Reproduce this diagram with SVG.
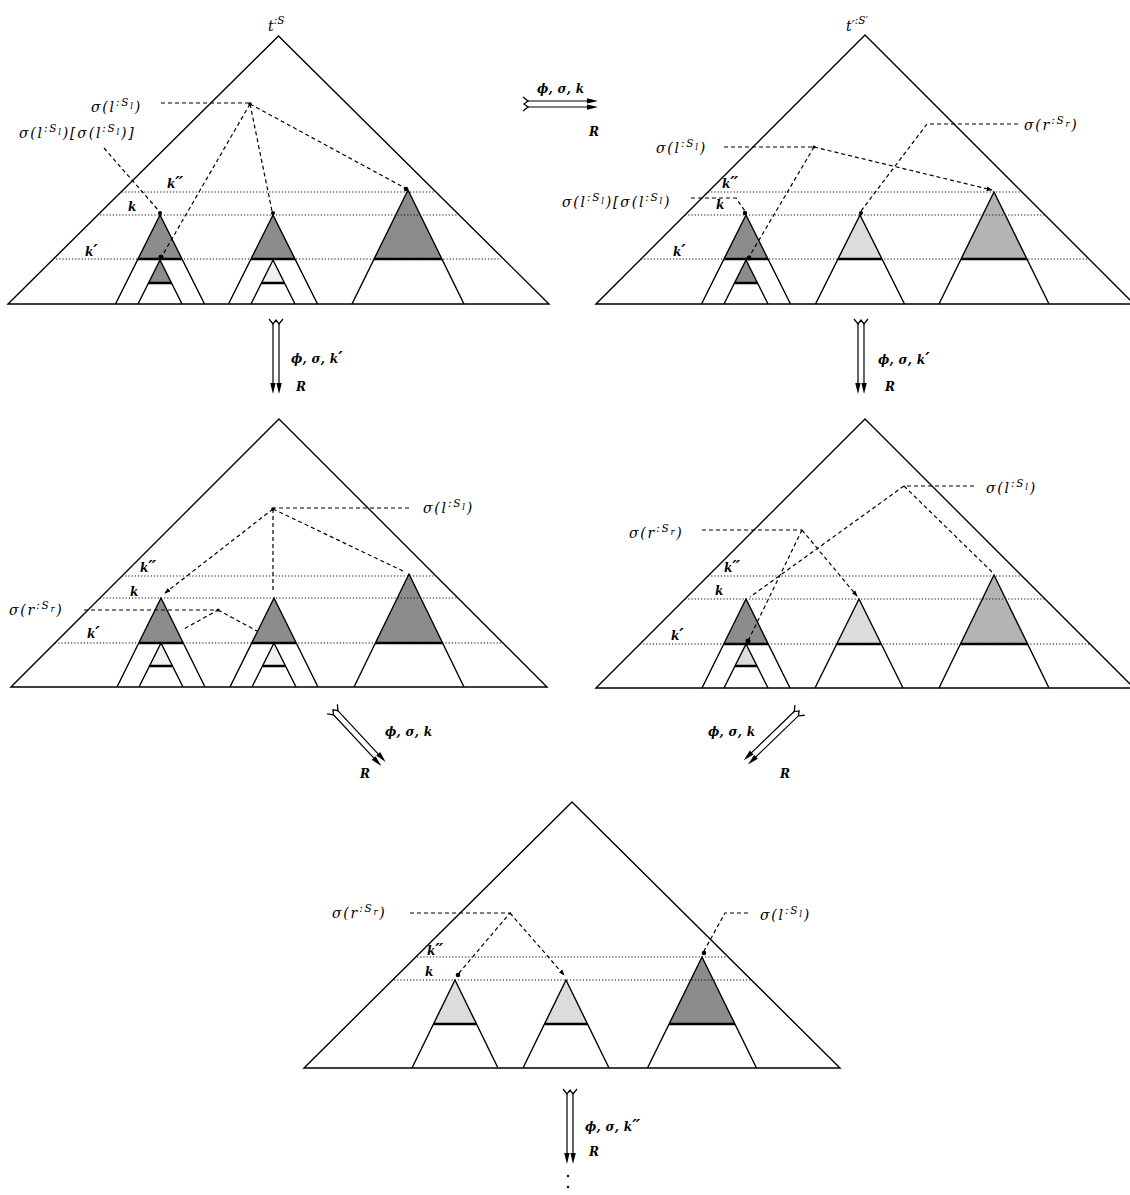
<svg xmlns="http://www.w3.org/2000/svg" xmlns:xlink="http://www.w3.org/1999/xlink" width="1130" height="1195" viewBox="0 0 1130 1195">
<style>
.bg{fill:#fff}
.tri{fill:none;stroke:#000;stroke-width:1.4;stroke-linejoin:miter}
.dotl{fill:none;stroke:#111;stroke-width:1.1;stroke-dasharray:1.2 2}
.dash{fill:none;stroke:#000;stroke-width:1.2;stroke-dasharray:4 3}
.thick{stroke:#000;stroke-width:2.6;fill:none}
.dark{fill:#8c8c8c}
.med{fill:#b4b4b4}
.light{fill:#dcdcdc}
.vlight{fill:#f0f0f0}
.pt{fill:#000}
.lbl{font-family:"DejaVu Serif",serif;font-style:italic;font-size:14px;letter-spacing:1.8px;fill:#000}
.sup{font-size:10.5px}
.sub{font-size:8.5px}
.k{font-family:"DejaVu Serif",serif;font-style:italic;font-weight:bold;font-size:12px;fill:#000}
.al{font-family:"DejaVu Serif",serif;font-style:italic;font-weight:bold;font-size:12px;fill:#000;letter-spacing:0.3px}
.pr{font-size:17px;letter-spacing:-1px}
.ttl{font-family:"DejaVu Serif",serif;font-style:italic;font-size:14px;fill:#000}
</style>
<defs>
<marker id="ah" viewBox="0 0 8 8" refX="7" refY="4" markerWidth="6" markerHeight="6" orient="auto" markerUnits="userSpaceOnUse"><path d="M0,1 L8,4 L0,7 Z" fill="#000"/></marker>
<g id="darrow">
<path d="M-3,1 V62 M3,1 V62" stroke="#000" stroke-width="1.2" fill="none"/>
<path d="M-7,-4 L-3,1 L0,-3 L3,1 L7,-4" stroke="#000" stroke-width="1.3" fill="none"/>
<path d="M-3,71 L-5.8,60 L-0.4,60 Z M3,71 L0.4,60 L5.8,60 Z" fill="#000"/>
</g>
</defs>
<rect class="bg" x="0" y="0" width="1130" height="1195"/>

<!-- Panel 1 -->
<g id="panel1">
<path class="dark" d="M160,215 L138,259 L182,259 Z M160,260 L148.5,283 L171.5,283 Z M273,215 L251,259 L295,259 Z M408,190 L374,259 L442,259 Z"/>
<path class="vlight" d="M273,260 L261.5,283 L284.5,283 Z"/>
<path class="tri" d="M8,304 L278.5,36 L549,304 Z"/>
<path class="tri" d="M115.5,304 L160,215 L204.5,304 M138,304 L160,260 L182,304 M228.5,304 L273,215 L317.5,304 M251,304 L273,260 L295,304 M352,304 L408,190 L464,304"/>
<path class="thick" d="M138,259 H182 M148.5,283 H171.5 M251,259 H295 M261.5,283 H284.5 M374,259 H442"/>
<path class="dotl" d="M122,192 H435 M100,215 H457 M56,259 H501"/>
<path class="dash" d="M161,103 H250 M250,104 L405,188 M250,104 L272,211 M250,104 L162,256 M104,148 L159,211"/>
<circle class="pt" cx="250" cy="104" r="1.8"/><circle class="pt" cx="406" cy="189" r="2.3"/><circle class="pt" cx="273" cy="213" r="2"/><circle class="pt" cx="161" cy="257" r="2.5"/><circle class="pt" cx="160" cy="213" r="2"/>
<text class="ttl" x="268" y="31">t<tspan class="sup" dy="-7">:S</tspan></text>
<text class="lbl" x="91" y="112">σ(l<tspan class="sup" dy="-6">:S</tspan><tspan class="sub" dy="3">l</tspan><tspan dy="3">)</tspan></text>
<text class="lbl" x="19" y="138">σ(l<tspan class="sup" dy="-6">:S</tspan><tspan class="sub" dy="3">l</tspan><tspan dy="3">)[σ(l</tspan><tspan class="sup" dy="-6">:S</tspan><tspan class="sub" dy="3">l</tspan><tspan dy="3">)]</tspan></text>
<text class="k" x="167" y="188">k<tspan class="pr">′′</tspan></text>
<text class="k" x="128" y="211">k</text>
<text class="k" x="85" y="256">k<tspan class="pr">′</tspan></text>
</g>

<!-- Panel 2 -->
<g id="panel2">
<path class="dark" d="M746,215 L724,259 L768,259 Z M746,260 L734.5,283 L757.5,283 Z"/>
<path class="light" d="M860,215 L838,259 L882,259 Z"/>
<path class="med" d="M994,192 L961,259 L1027,259 Z"/>
<path class="tri" d="M596,304 L865,35 L1134,304 Z"/>
<path class="tri" d="M701.5,304 L746,215 L790.5,304 M724,304 L746,260 L768,304 M815.5,304 L860,215 L904.5,304 M939,304 L994,192 L1049,304"/>
<path class="thick" d="M724,259 H768 M734.5,283 H757.5 M838,259 H882 M961,259 H1027"/>
<path class="dotl" d="M708,192 H1022 M685,215 H1045 M641,259 H1089"/>
<path class="dash" d="M1018,124 H927 L861,211 M724,147 H814 M814,147 L749,257 M691,198 H736 L745,211"/>
<path class="dash" d="M814,147 L992,190" marker-end="url(#ah)"/>
<circle class="pt" cx="814" cy="147" r="1.6"/><circle class="pt" cx="861" cy="213" r="2"/><circle class="pt" cx="745" cy="213" r="2.2"/><circle class="pt" cx="749" cy="258" r="2.5"/>
<text class="ttl" x="846" y="31">t′<tspan class="sup" dy="-7">:S′</tspan></text>
<text class="lbl" x="1024" y="130">σ(r<tspan class="sup" dy="-6">:S</tspan><tspan class="sub" dy="3">r</tspan><tspan dy="3">)</tspan></text>
<text class="lbl" x="656" y="153">σ(l<tspan class="sup" dy="-6">:S</tspan><tspan class="sub" dy="3">l</tspan><tspan dy="3">)</tspan></text>
<text class="lbl" x="562" y="207">σ(l<tspan class="sup" dy="-6">:S</tspan><tspan class="sub" dy="3">l</tspan><tspan dy="3">)[σ(l</tspan><tspan class="sup" dy="-6">:S</tspan><tspan class="sub" dy="3">l</tspan><tspan dy="3">)</tspan></text>
<text class="k" x="722" y="188">k<tspan class="pr">′′</tspan></text>
<text class="k" x="716" y="209">k</text>
<text class="k" x="673" y="256">k<tspan class="pr">′</tspan></text>
</g>

<!-- Panel 3 -->
<g id="panel3">
<path class="dark" d="M161,598 L139,643 L183,643 Z M274,598 L252,643 L296,643 Z M409,574 L375,643 L443,643 Z"/>
<path class="vlight" d="M161,643 L150,666 L172,666 Z M274,643 L263,666 L285,666 Z"/>
<path class="tri" d="M11,687 L279,419 L547,687 Z"/>
<path class="tri" d="M117,687 L161,598 L205,687 M139,687 L161,643 L183,687 M230,687 L274,598 L318,687 M252,687 L274,643 L296,687 M354,687 L409,574 L464,687"/>
<path class="thick" d="M139,643 H183 M150,666 H172 M252,643 H296 M263,666 H285 M375,643 H443"/>
<path class="dotl" d="M122,576 H436 M100,598 H458 M55,643 H503"/>
<path class="dash" d="M409,508 H273 M84,610 H218 L182,630 M218,610 L257,631"/>
<path class="dash" d="M273,509 L405,572 M273,509 V592 M273,509 L165,593" marker-end="url(#ah)"/>
<circle class="pt" cx="273" cy="509" r="1.8"/><circle class="pt" cx="218" cy="610" r="1.5"/>
<text class="lbl" x="423" y="513">σ(l<tspan class="sup" dy="-6">:S</tspan><tspan class="sub" dy="3">l</tspan><tspan dy="3">)</tspan></text>
<text class="lbl" x="9" y="615">σ(r<tspan class="sup" dy="-6">:S</tspan><tspan class="sub" dy="3">r</tspan><tspan dy="3">)</tspan></text>
<text class="k" x="140" y="572">k<tspan class="pr">′′</tspan></text>
<text class="k" x="130" y="596">k</text>
<text class="k" x="87" y="638">k<tspan class="pr">′</tspan></text>
</g>

<!-- Panel 4 -->
<g id="panel4">
<path class="dark" d="M746,599 L724,644 L768,644 Z"/>
<path class="light" d="M746,644 L735,666 L757,666 Z M859,599 L837,644 L881,644 Z"/>
<path class="med" d="M994,575 L960,644 L1028,644 Z"/>
<path class="tri" d="M596,688 L865,419 L1134,688 Z"/>
<path class="tri" d="M702,688 L746,599 L790,688 M724,688 L746,644 L768,688 M815,688 L859,599 L903,688 M939,688 L994,575 L1049,688"/>
<path class="thick" d="M724,644 H768 M735,666 H757 M837,644 H881 M960,644 H1028"/>
<path class="dotl" d="M708,576 H1022 M685,599 H1045 M640,644 H1090"/>
<path class="dash" d="M974,486 H904 M702,530 H802 M802,530 L749,639"/>
<path class="dash" d="M904,486 L992,572 M904,486 L750,597 M802,530 L857,596" marker-end="url(#ah)"/>
<circle class="pt" cx="748" cy="641" r="2.5"/>
<text class="lbl" x="986" y="493">σ(l<tspan class="sup" dy="-6">:S</tspan><tspan class="sub" dy="3">l</tspan><tspan dy="3">)</tspan></text>
<text class="lbl" x="629" y="538">σ(r<tspan class="sup" dy="-6">:S</tspan><tspan class="sub" dy="3">r</tspan><tspan dy="3">)</tspan></text>
<text class="k" x="724" y="572">k<tspan class="pr">′′</tspan></text>
<text class="k" x="715" y="595">k</text>
<text class="k" x="671" y="640">k<tspan class="pr">′</tspan></text>
</g>

<!-- Panel 5 -->
<g id="panel5">
<path class="light" d="M455,980 L433.5,1024 L476.5,1024 Z M566,980 L544.5,1024 L587.5,1024 Z"/>
<path class="dark" d="M702,957 L669,1024 L735,1024 Z"/>
<path class="tri" d="M304,1068 L572,802 L840,1068 Z"/>
<path class="tri" d="M412,1068 L455,980 L498,1068 M523,1068 L566,980 L609,1068 M647.5,1068 L702,957 L756.5,1068"/>
<path class="thick" d="M433.5,1024 H476.5 M544.5,1024 H587.5 M669,1024 H735"/>
<path class="dotl" d="M417,957 H727 M394,980 H750"/>
<path class="dash" d="M410,913 H510 L459,973 M748,913 H725 L704,951"/>
<path class="dash" d="M510,913 L564,975" marker-end="url(#ah)"/>
<circle class="pt" cx="458" cy="975" r="2.3"/><circle class="pt" cx="704" cy="953" r="2.3"/>
<text class="lbl" x="332" y="918">σ(r<tspan class="sup" dy="-6">:S</tspan><tspan class="sub" dy="3">r</tspan><tspan dy="3">)</tspan></text>
<text class="lbl" x="760" y="920">σ(l<tspan class="sup" dy="-6">:S</tspan><tspan class="sub" dy="3">l</tspan><tspan dy="3">)</tspan></text>
<text class="k" x="427" y="955">k<tspan class="pr">′′</tspan></text>
<text class="k" x="425" y="976">k</text>
</g>

<!-- Connectors: rewriting steps -->
<g id="connectors">
<use xlink:href="#darrow" href="#darrow" transform="translate(527,104) rotate(-90)"/>
<text class="al" x="537" y="93">ϕ, σ, k</text>
<text class="al" x="589" y="136">R</text>
<use xlink:href="#darrow" href="#darrow" transform="translate(276,323)"/>
<text class="al" x="291" y="363">ϕ, σ, k<tspan class="pr">′</tspan></text>
<text class="al" x="296" y="391">R</text>
<use xlink:href="#darrow" href="#darrow" transform="translate(861,323)"/>
<text class="al" x="878" y="364">ϕ, σ, k<tspan class="pr">′</tspan></text>
<text class="al" x="885" y="391">R</text>
<use xlink:href="#darrow" href="#darrow" transform="translate(335,712) rotate(-43)"/>
<text class="al" x="385" y="736">ϕ, σ, k</text>
<text class="al" x="360" y="778">R</text>
<use xlink:href="#darrow" href="#darrow" transform="translate(797,713) rotate(46)"/>
<text class="al" x="708" y="736">ϕ, σ, k</text>
<text class="al" x="780" y="778">R</text>
<use xlink:href="#darrow" href="#darrow" transform="translate(570,1093)"/>
<text class="al" x="585" y="1131">ϕ, σ, k<tspan class="pr">′′</tspan></text>
<text class="al" x="589" y="1156">R</text>
<circle class="pt" cx="568" cy="1176" r="1.2"/>
<circle class="pt" cx="568" cy="1187" r="1.2"/>
</g>
</svg>
